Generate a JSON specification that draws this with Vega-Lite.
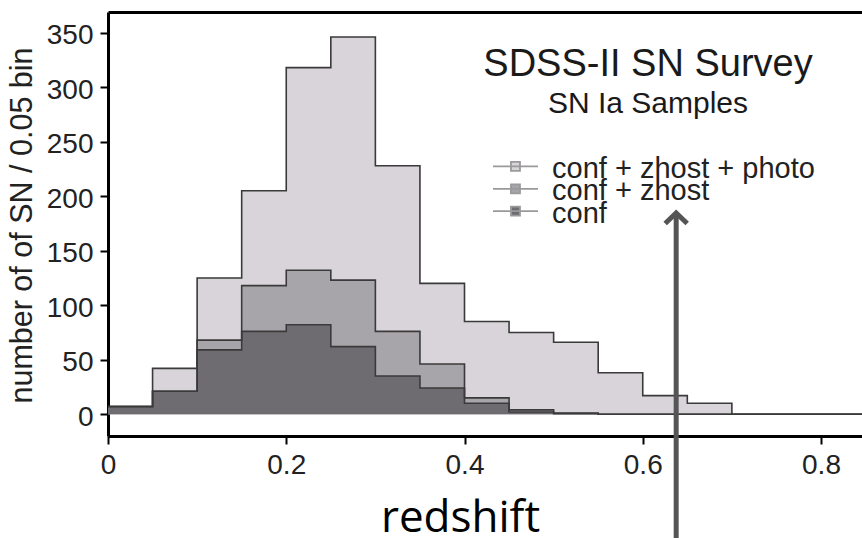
{
  "$schema": "https://vega.github.io/schema/vega-lite/v6.json",
  "width": 754,
  "height": 424,
  "autosize": {"type": "none"},
  "padding": {"left": 108, "top": 12, "right": 0, "bottom": 102},
  "background": "white",
  "config": {"view": {"stroke": null}, "font": "Liberation Sans"},
  "datasets": {
    "hist": [
      {"z": 0, "s": "conf + zhost + photo", "n": 7},
      {"z": 0.05, "s": "conf + zhost + photo", "n": 42},
      {"z": 0.1, "s": "conf + zhost + photo", "n": 125},
      {"z": 0.15, "s": "conf + zhost + photo", "n": 205},
      {"z": 0.2, "s": "conf + zhost + photo", "n": 318},
      {"z": 0.25, "s": "conf + zhost + photo", "n": 346},
      {"z": 0.3, "s": "conf + zhost + photo", "n": 228},
      {"z": 0.35, "s": "conf + zhost + photo", "n": 120},
      {"z": 0.4, "s": "conf + zhost + photo", "n": 85},
      {"z": 0.45, "s": "conf + zhost + photo", "n": 75},
      {"z": 0.5, "s": "conf + zhost + photo", "n": 66},
      {"z": 0.55, "s": "conf + zhost + photo", "n": 38},
      {"z": 0.6, "s": "conf + zhost + photo", "n": 17},
      {"z": 0.65, "s": "conf + zhost + photo", "n": 10},
      {"z": 0.7, "s": "conf + zhost + photo", "n": 0},
      {"z": 0.75, "s": "conf + zhost + photo", "n": 0},
      {"z": 0.8, "s": "conf + zhost + photo", "n": 0},
      {"z": 0.85, "s": "conf + zhost + photo", "n": 0},
      {"z": 0, "s": "conf + zhost", "n": 7},
      {"z": 0.05, "s": "conf + zhost", "n": 21},
      {"z": 0.1, "s": "conf + zhost", "n": 68},
      {"z": 0.15, "s": "conf + zhost", "n": 118},
      {"z": 0.2, "s": "conf + zhost", "n": 132},
      {"z": 0.25, "s": "conf + zhost", "n": 123},
      {"z": 0.3, "s": "conf + zhost", "n": 76},
      {"z": 0.35, "s": "conf + zhost", "n": 46},
      {"z": 0.4, "s": "conf + zhost", "n": 15},
      {"z": 0.45, "s": "conf + zhost", "n": 4},
      {"z": 0.5, "s": "conf + zhost", "n": 1},
      {"z": 0.55, "s": "conf + zhost", "n": 0},
      {"z": 0.6, "s": "conf + zhost", "n": 0},
      {"z": 0.65, "s": "conf + zhost", "n": 0},
      {"z": 0.7, "s": "conf + zhost", "n": 0},
      {"z": 0.75, "s": "conf + zhost", "n": 0},
      {"z": 0.8, "s": "conf + zhost", "n": 0},
      {"z": 0.85, "s": "conf + zhost", "n": 0},
      {"z": 0, "s": "conf", "n": 7},
      {"z": 0.05, "s": "conf", "n": 21},
      {"z": 0.1, "s": "conf", "n": 59},
      {"z": 0.15, "s": "conf", "n": 76},
      {"z": 0.2, "s": "conf", "n": 82},
      {"z": 0.25, "s": "conf", "n": 62},
      {"z": 0.3, "s": "conf", "n": 35},
      {"z": 0.35, "s": "conf", "n": 24},
      {"z": 0.4, "s": "conf", "n": 10},
      {"z": 0.45, "s": "conf", "n": 2},
      {"z": 0.5, "s": "conf", "n": 0.5},
      {"z": 0.55, "s": "conf", "n": 0},
      {"z": 0.6, "s": "conf", "n": 0},
      {"z": 0.65, "s": "conf", "n": 0},
      {"z": 0.7, "s": "conf", "n": 0},
      {"z": 0.75, "s": "conf", "n": 0},
      {"z": 0.8, "s": "conf", "n": 0},
      {"z": 0.85, "s": "conf", "n": 0}
    ]
  },
  "resolve": {"axis": {"x": "independent"}},
  "layer": [
    {
      "data": {"name": "hist"},
      "transform": [{"filter": "datum.s === 'conf + zhost + photo'"}],
      "mark": {"type": "area", "interpolate": "step-after", "clip": true, "opacity": 1},
      "encoding": {
        "x": {
          "field": "z", "type": "quantitative",
          "scale": {"domain": [0, 0.846], "nice": false, "zero": false},
          "axis": {
            "orient": "bottom",
            "values": [0, 0.2, 0.4, 0.6, 0.8],
            "format": "~g",
            "labelFlush": false,
            "labelOverlap": false,
            "labelFont": "Liberation Sans",
            "labelFontSize": 28,
            "labelColor": "#222222",
            "labelPadding": 7,
            "ticks": true,
            "tickSize": 8,
            "tickWidth": 2,
            "tickColor": "black",
            "domainColor": "black",
            "domainWidth": 3,
            "grid": false,
            "title": "redshift",
            "titleFont": "Open Sans",
            "titleFontSize": 44,
            "titleFontWeight": "normal",
            "titleColor": "black",
            "titleX": 352,
            "titleY": 95,
            "titleAlign": "center",
            "titleBaseline": "alphabetic"
          }
        },
        "y": {
          "field": "n", "type": "quantitative", "stack": null,
          "scale": {"domain": [-20, 369], "nice": false, "zero": false},
          "axis": {
            "orient": "left",
            "values": [0, 50, 100, 150, 200, 250, 300, 350],
            "format": "d",
            "labelOverlap": false,
            "labelFont": "Liberation Sans",
            "labelFontSize": 28,
            "labelColor": "#222222",
            "labelPadding": 7,
            "labelOffset": 3,
            "ticks": true,
            "tickSize": 8,
            "tickWidth": 2,
            "tickColor": "black",
            "domain": true,
            "domainColor": "black",
            "domainWidth": 3,
            "grid": false,
            "title": "number of of SN / 0.05 bin",
            "titleFont": "Liberation Sans",
            "titleFontSize": 30.5,
            "titleFontWeight": "normal",
            "titleColor": "#222222",
            "titleAngle": -90,
            "titleX": -77,
            "titleY": 213,
            "titleAlign": "center",
            "titleBaseline": "alphabetic"
          }
        },
        "fill": {
          "field": "s", "type": "nominal",
          "scale": {"domain": ["conf + zhost + photo", "conf + zhost", "conf"], "range": ["#d8d4da", "#a8a5aa", "#6e6c70"]},
          "legend": null
        }
      }
    },
    {
      "data": {"name": "hist"},
      "transform": [{"filter": "datum.s === 'conf + zhost'"}],
      "mark": {"type": "area", "interpolate": "step-after", "clip": true, "opacity": 1},
      "encoding": {
        "x": {"field": "z", "type": "quantitative", "axis": null},
        "y": {"field": "n", "type": "quantitative", "stack": null},
        "fill": {"field": "s", "type": "nominal", "legend": null}
      }
    },
    {
      "data": {"name": "hist"},
      "transform": [{"filter": "datum.s === 'conf'"}],
      "mark": {"type": "area", "interpolate": "step-after", "clip": true, "opacity": 1},
      "encoding": {
        "x": {"field": "z", "type": "quantitative", "axis": null},
        "y": {"field": "n", "type": "quantitative", "stack": null},
        "fill": {"field": "s", "type": "nominal", "legend": null}
      }
    },
    {
      "data": {"name": "hist"},
      "mark": {"type": "line", "interpolate": "step-after", "clip": true, "stroke": "#3a3a3a", "strokeWidth": 1.6},
      "encoding": {
        "x": {
          "field": "z", "type": "quantitative",
          "axis": {"orient": "top", "labels": false, "ticks": false, "domainColor": "black", "domainWidth": 3, "grid": false, "title": null}
        },
        "y": {"field": "n", "type": "quantitative", "stack": null},
        "detail": {"field": "s", "type": "nominal"}
      }
    },
    {
      "data": {"values": [{"s": "conf + zhost + photo"}]},
      "mark": {"type": "point", "shape": "M-2.25,0L2.25,0M-0.45,-0.45L0.45,-0.45L0.45,0.45L-0.45,0.45Z", "size": 400, "filled": true, "stroke": "#9a9a9a", "strokeWidth": 1.8, "opacity": 1},
      "encoding": {
        "x": {"datum": 0.4572, "type": "quantitative", "axis": null},
        "y": {"datum": 227.3, "type": "quantitative"},
        "fill": {"field": "s", "type": "nominal", "legend": null}
      }
    },
    {
      "data": {"values": [{"s": "conf + zhost + photo"}]},
      "mark": {"type": "text", "font": "Liberation Sans", "fontSize": 29, "color": "#222222", "align": "left", "baseline": "alphabetic", "dy": 11.5},
      "encoding": {
        "x": {"datum": 0.4982, "type": "quantitative", "axis": null},
        "y": {"datum": 227.3, "type": "quantitative"},
        "text": {"field": "s"}
      }
    },
    {
      "data": {"values": [{"s": "conf + zhost"}]},
      "mark": {"type": "point", "shape": "M-2.25,0L2.25,0M-0.45,-0.45L0.45,-0.45L0.45,0.45L-0.45,0.45Z", "size": 400, "filled": true, "stroke": "#9a9a9a", "strokeWidth": 1.8, "opacity": 1},
      "encoding": {
        "x": {"datum": 0.4572, "type": "quantitative", "axis": null},
        "y": {"datum": 206.8, "type": "quantitative"},
        "fill": {"field": "s", "type": "nominal", "legend": null}
      }
    },
    {
      "data": {"values": [{"s": "conf + zhost"}]},
      "mark": {"type": "text", "font": "Liberation Sans", "fontSize": 29, "color": "#222222", "align": "left", "baseline": "alphabetic", "dy": 11.5},
      "encoding": {
        "x": {"datum": 0.4982, "type": "quantitative", "axis": null},
        "y": {"datum": 206.8, "type": "quantitative"},
        "text": {"field": "s"}
      }
    },
    {
      "data": {"values": [{"s": "conf"}]},
      "mark": {"type": "point", "shape": "M-2.25,0L2.25,0M-0.45,-0.45L0.45,-0.45L0.45,0.45L-0.45,0.45Z", "size": 400, "filled": true, "stroke": "#9a9a9a", "strokeWidth": 1.8, "opacity": 1},
      "encoding": {
        "x": {"datum": 0.4572, "type": "quantitative", "axis": null},
        "y": {"datum": 186.4, "type": "quantitative"},
        "fill": {"field": "s", "type": "nominal", "legend": null}
      }
    },
    {
      "data": {"values": [{"s": "conf"}]},
      "mark": {"type": "text", "font": "Liberation Sans", "fontSize": 29, "color": "#222222", "align": "left", "baseline": "alphabetic", "dy": 11.5},
      "encoding": {
        "x": {"datum": 0.4982, "type": "quantitative", "axis": null},
        "y": {"datum": 186.4, "type": "quantitative"},
        "text": {"field": "s"}
      }
    },
    {
      "data": {"values": [{"z": 0.6375, "lo": -115, "hi": 182}]},
      "mark": {"type": "rule", "stroke": "#555555", "strokeWidth": 5},
      "encoding": {
        "x": {"field": "z", "type": "quantitative", "axis": null},
        "y": {"field": "lo", "type": "quantitative"},
        "y2": {"field": "hi"}
      }
    },
    {
      "data": {"values": [{"z": 0.6375, "n": 184.6}]},
      "mark": {"type": "point", "shape": "M-1,0.95L0,0L1,0.95", "size": 484, "filled": false, "stroke": "#555555", "strokeWidth": 5, "opacity": 1},
      "encoding": {
        "x": {"field": "z", "type": "quantitative", "axis": null},
        "y": {"field": "n", "type": "quantitative"}
      }
    },
    {
      "data": {"values": [{"z": 0.6059, "n": 310.7, "t": "SDSS-II SN Survey"}]},
      "mark": {"type": "text", "font": "Liberation Sans", "fontSize": 38, "color": "#1a1a1a", "align": "center", "baseline": "alphabetic"},
      "encoding": {
        "x": {"field": "z", "type": "quantitative", "axis": null},
        "y": {"field": "n", "type": "quantitative"},
        "text": {"field": "t"}
      }
    },
    {
      "data": {"values": [{"z": 0.6059, "n": 276.3, "t": "SN Ia Samples"}]},
      "mark": {"type": "text", "font": "Liberation Sans", "fontSize": 30, "color": "#1a1a1a", "align": "center", "baseline": "alphabetic"},
      "encoding": {
        "x": {"field": "z", "type": "quantitative", "axis": null},
        "y": {"field": "n", "type": "quantitative"},
        "text": {"field": "t"}
      }
    }
  ]
}
